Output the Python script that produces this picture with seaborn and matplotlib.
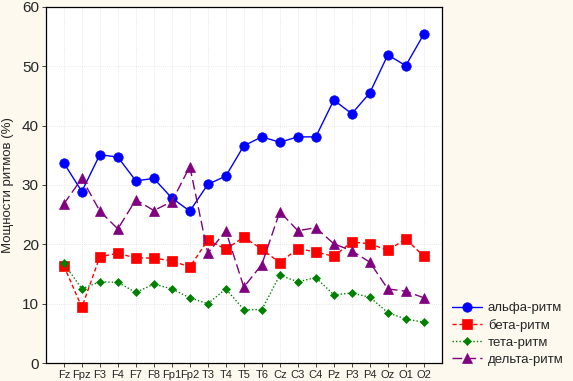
import matplotlib
matplotlib.use("Agg")
import matplotlib.pyplot as plt
import numpy as np
import pandas as pd
import seaborn as sns

leads = ["Fz", "Fpz", "F3", "F4", "F7", "F8", "Fp1", "Fp2", "T3", "T4", "T5", "T6",
         "Cz", "C3", "C4", "Pz", "P3", "P4", "Oz", "O1", "O2"]
alpha = [33.7, 28.9, 35.1, 34.7, 30.7, 31.1, 27.8, 25.6, 30.1, 31.5, 36.6, 38.1,
         37.2, 38.1, 38.1, 44.3, 42.0, 45.5, 51.9, 50.1, 55.4]
beta = [16.4, 9.4, 17.9, 18.5, 17.7, 17.7, 17.2, 16.2, 20.7, 19.2, 21.2, 19.2,
        16.9, 19.3, 18.7, 18.0, 20.4, 20.1, 19.0, 20.9, 18.0]
theta = [16.8, 12.5, 13.7, 13.6, 11.9, 13.3, 12.5, 11.0, 10.0, 12.5, 9.0, 9.0,
         14.8, 13.7, 14.4, 11.5, 11.8, 11.1, 8.5, 7.4, 6.9]
delta = [26.8, 31.1, 25.6, 22.6, 27.5, 25.7, 27.2, 33.1, 18.5, 22.3, 12.8, 16.6,
         25.5, 22.3, 22.8, 20.1, 18.9, 17.0, 12.5, 12.1, 11.0]

series = [
    ("альфа-ритм", alpha, "#0000ff", "-", "o", 6.8),
    ("бета-ритм", beta, "#ff0000", (0, (3, 2)), "s", 6.8),
    ("тета-ритм", theta, "#008000", (0, (1, 1.5)), "D", 4.2),
    ("дельта-ритм", delta, "#800080", (0, (7, 3)), "^", 6.8),
]

sns.set_style("white")
plt.rcParams["font.family"] = ["Liberation Sans", "DejaVu Sans"]

fig = plt.figure(figsize=(5.73, 3.81), dpi=100, facecolor="#fdf9ef")
ax = fig.add_axes([0.080, 0.047, 0.691, 0.935])
ax.set_facecolor("white")

for name, vals, color, ls, marker, ms in series:
    df = pd.DataFrame({"lead": leads, "value": vals})
    sns.lineplot(data=df, x="lead", y="value", ax=ax, color=color, linestyle=ls,
                 linewidth=1.0, marker=marker, markersize=ms, markeredgewidth=0.5,
                 markeredgecolor=color, label=name, sort=False)

ax.set_xlim(-1, len(leads))
ax.set_ylim(0, 60)
ax.set_yticks(np.arange(0, 61, 10))
ax.set_xlabel("")
ax.set_ylabel("Мощности ритмов (%)", fontsize=9.5, labelpad=6)
ax.grid(True, color="#e2e2e2", linestyle=(0, (1, 1.5)), linewidth=0.6)
ax.tick_params(axis="x", labelsize=8.0, length=3, width=0.6, pad=2, direction="out", bottom=True)
ax.tick_params(axis="y", labelsize=11, length=3, width=0.6, pad=2, direction="out", left=True)
for side in ax.spines.values():
    side.set_color("black")
    side.set_linewidth(0.9)

handles, labels = ax.get_legend_handles_labels()
ax.get_legend().remove()
fig.legend(handles, labels, loc="lower left", bbox_to_anchor=(0.772, 0.016),
           frameon=False, fontsize=9.5, handlelength=2.3, handletextpad=0.45,
           labelspacing=0.35, borderaxespad=0.3)

fig.savefig("out.png", dpi=100, facecolor=fig.get_facecolor())
